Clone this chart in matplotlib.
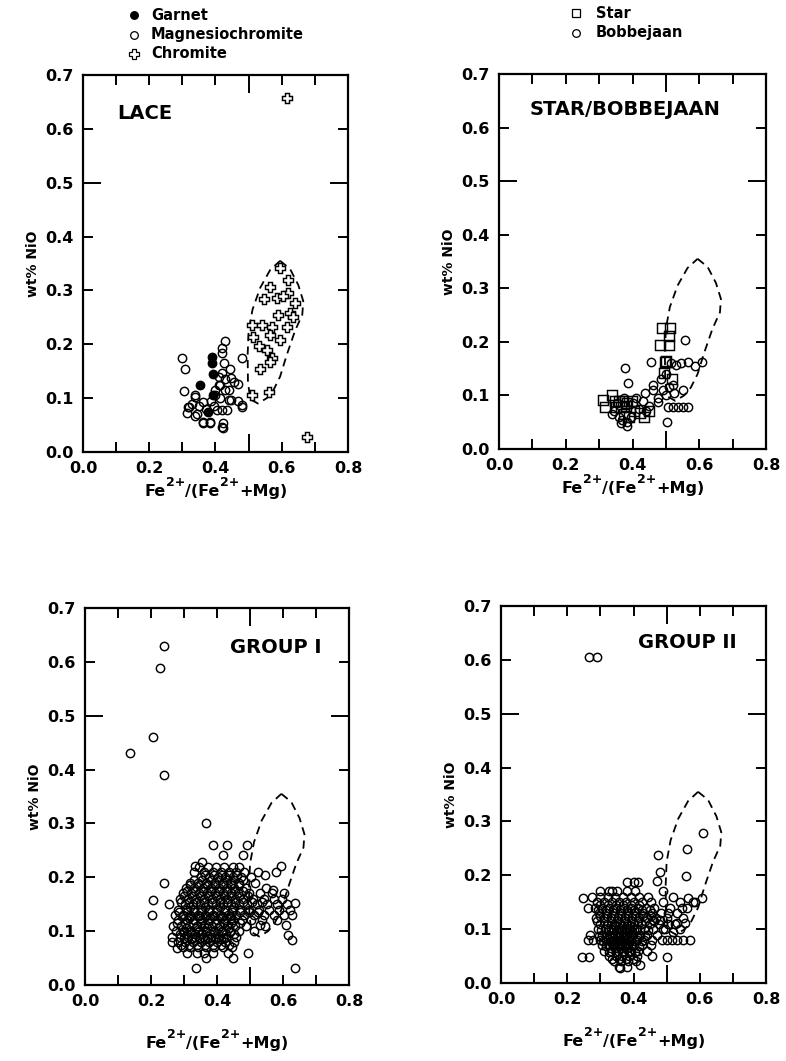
import matplotlib
matplotlib.use('Agg')
import matplotlib.pyplot as plt
from matplotlib.lines import Line2D

plt.rcParams['font.family'] = ['DejaVu Sans']
plt.rcParams['font.weight'] = 'bold'

# ---------------- data ----------------
x_ticks = [0.0, 0.1, 0.2, 0.3, 0.4, 0.5, 0.6, 0.7, 0.8]
y_ticks = [0.0, 0.1, 0.2, 0.3, 0.4, 0.5, 0.6, 0.7]

# field of chromite (dashed envelope)
env_x = [0.595, 0.625, 0.650, 0.665, 0.662, 0.640, 0.615, 0.595, 0.575, 0.555,
         0.528, 0.505, 0.498, 0.497, 0.500, 0.512, 0.535, 0.565, 0.595]
env_y = [0.355, 0.340, 0.310, 0.280, 0.255, 0.225, 0.180, 0.140, 0.115, 0.100,
         0.090, 0.098, 0.130, 0.180, 0.225, 0.265, 0.305, 0.338, 0.355]

# LACE
lace_garnet_x = [0.388, 0.388, 0.393, 0.353, 0.378, 0.392]
lace_garnet_y = [0.176, 0.166, 0.145, 0.125, 0.075, 0.105]

lace_mgchr_x = [0.298, 0.308, 0.305, 0.429, 0.419, 0.420, 0.479, 0.444, 0.447, 0.469,
                0.413, 0.419, 0.338, 0.363, 0.447, 0.479, 0.318, 0.313, 0.343, 0.363,
                0.383, 0.424, 0.424, 0.469, 0.480, 0.440, 0.421, 0.383, 0.363, 0.338,
                0.319, 0.338, 0.400, 0.410, 0.430, 0.395, 0.405, 0.420, 0.435, 0.385,
                0.400, 0.415, 0.430, 0.350, 0.370, 0.330, 0.410, 0.440, 0.455, 0.425]
lace_mgchr_y = [0.175, 0.154, 0.114, 0.206, 0.194, 0.183, 0.175, 0.155, 0.137, 0.126,
                0.124, 0.146, 0.103, 0.093, 0.096, 0.087, 0.084, 0.072, 0.070, 0.054,
                0.053, 0.053, 0.044, 0.095, 0.084, 0.097, 0.047, 0.056, 0.056, 0.067,
                0.084, 0.105, 0.115, 0.125, 0.135, 0.085, 0.078, 0.078, 0.078, 0.095,
                0.105, 0.100, 0.115, 0.085, 0.080, 0.090, 0.140, 0.115, 0.130, 0.165]

lace_chromite_x = [0.595, 0.620, 0.565, 0.546, 0.585, 0.620, 0.640, 0.625, 0.590, 0.615,
                   0.509, 0.540, 0.570, 0.514, 0.565, 0.595, 0.530, 0.555, 0.570, 0.565,
                   0.535, 0.509, 0.560, 0.615, 0.675, 0.605, 0.635]
lace_chromite_y = [0.341, 0.319, 0.307, 0.285, 0.286, 0.295, 0.276, 0.258, 0.255, 0.233,
                   0.236, 0.236, 0.233, 0.214, 0.217, 0.208, 0.196, 0.189, 0.174, 0.168,
                   0.155, 0.106, 0.112, 0.657, 0.028, 0.290, 0.250]

# STAR / BOBBEJAAN
star_x = [0.487, 0.512, 0.510, 0.482, 0.510, 0.497, 0.493, 0.519, 0.313, 0.318,
          0.338, 0.348, 0.360, 0.372, 0.385, 0.398, 0.352, 0.366, 0.380, 0.422,
          0.435, 0.448, 0.405, 0.375, 0.390, 0.500]
star_y = [0.225, 0.225, 0.210, 0.194, 0.194, 0.163, 0.141, 0.130, 0.091, 0.079,
          0.101, 0.090, 0.090, 0.090, 0.085, 0.090, 0.078, 0.078, 0.080, 0.067,
          0.060, 0.070, 0.070, 0.065, 0.060, 0.165]

bob_x = [0.377, 0.387, 0.455, 0.557, 0.567, 0.587, 0.607, 0.531, 0.515, 0.545,
         0.462, 0.492, 0.510, 0.525, 0.552, 0.437, 0.475, 0.500, 0.477, 0.505,
         0.520, 0.535, 0.550, 0.565, 0.502, 0.383, 0.360, 0.345, 0.370, 0.395,
         0.410, 0.430, 0.450, 0.420, 0.440, 0.365, 0.385, 0.355, 0.375, 0.460,
         0.485, 0.400, 0.340, 0.500, 0.520]
bob_y = [0.151, 0.123, 0.162, 0.203, 0.163, 0.154, 0.163, 0.157, 0.160, 0.160,
         0.110, 0.110, 0.115, 0.105, 0.110, 0.104, 0.095, 0.100, 0.088, 0.079,
         0.079, 0.079, 0.079, 0.079, 0.051, 0.042, 0.060, 0.070, 0.055, 0.060,
         0.095, 0.090, 0.080, 0.075, 0.070, 0.048, 0.050, 0.085, 0.095, 0.120,
         0.130, 0.085, 0.065, 0.140, 0.120]

# GROUP I
g1_x = [0.240, 0.227, 0.205, 0.136, 0.239, 0.367, 0.239, 0.207, 0.255, 0.202,
        0.387, 0.431, 0.490, 0.419, 0.478, 0.354, 0.333, 0.525, 0.545, 0.579,
        0.593, 0.336, 0.637, 0.495, 0.628, 0.616, 0.610, 0.637, 0.571, 0.530,
        0.278, 0.263, 0.308, 0.368, 0.449,
        0.345, 0.372, 0.398, 0.421, 0.447, 0.468,
        0.330, 0.361, 0.389, 0.412, 0.436, 0.458, 0.483,
        0.352, 0.377, 0.403, 0.425, 0.449, 0.474, 0.502,
        0.318, 0.343, 0.368, 0.394, 0.417, 0.441, 0.466, 0.515,
        0.305, 0.331, 0.357, 0.382, 0.406, 0.429, 0.453, 0.488, 0.548,
        0.296, 0.322, 0.346, 0.371, 0.395, 0.418, 0.442, 0.464, 0.497, 0.531, 0.566, 0.602,
        0.289, 0.313, 0.337, 0.360, 0.384, 0.408, 0.431, 0.455, 0.479, 0.509, 0.541, 0.574, 0.598,
        0.302, 0.326, 0.349, 0.372, 0.396, 0.419, 0.443, 0.467, 0.492, 0.521, 0.553, 0.583, 0.612,
        0.281, 0.306, 0.329, 0.352, 0.376, 0.399, 0.423, 0.446, 0.470, 0.496, 0.526, 0.557, 0.589, 0.621,
        0.272, 0.297, 0.318, 0.341, 0.363, 0.387, 0.410, 0.434, 0.458, 0.483, 0.511, 0.542, 0.572, 0.604, 0.628,
        0.283, 0.308, 0.331, 0.354, 0.377, 0.401, 0.425, 0.449, 0.476, 0.503, 0.536, 0.581,
        0.268, 0.292, 0.315, 0.338, 0.361, 0.384, 0.408, 0.431, 0.455, 0.487, 0.544,
        0.276, 0.299, 0.322, 0.345, 0.368, 0.392, 0.415, 0.440, 0.468, 0.512,
        0.263, 0.287, 0.311, 0.334, 0.357, 0.381, 0.404, 0.428, 0.457,
        0.281, 0.304, 0.328, 0.352, 0.375, 0.399, 0.424, 0.452,
        0.296, 0.318, 0.343, 0.366, 0.391, 0.417, 0.446,
        0.338, 0.362, 0.387, 0.433,
        0.316, 0.347, 0.379, 0.413, 0.442,
        0.306, 0.337, 0.370, 0.402, 0.436,
        0.318, 0.364, 0.409, 0.451,
        0.322, 0.364, 0.412,
        0.363, 0.391, 0.415, 0.437, 0.461,
        0.330, 0.356, 0.381, 0.405, 0.429, 0.453, 0.478,
        0.318, 0.344, 0.369, 0.394, 0.418, 0.441, 0.466,
        0.309, 0.334, 0.358, 0.383, 0.407, 0.430, 0.454, 0.480,
        0.301, 0.325, 0.349, 0.372, 0.396, 0.420, 0.443, 0.467, 0.494,
        0.290, 0.314, 0.337, 0.361, 0.384, 0.408, 0.431, 0.455, 0.480, 0.507, 0.537,
        0.285, 0.308, 0.330, 0.352, 0.375, 0.398, 0.422, 0.446, 0.471, 0.497, 0.524,
        0.280, 0.303, 0.326, 0.350, 0.373, 0.396, 0.420, 0.443, 0.470,
        0.288, 0.310, 0.333, 0.356, 0.380, 0.403, 0.427, 0.452,
        0.292, 0.316, 0.339, 0.363, 0.387, 0.411, 0.435,
        0.296, 0.322, 0.345, 0.368, 0.392, 0.416, 0.440,
        0.296, 0.319, 0.342, 0.366, 0.390, 0.414, 0.438,
        0.300, 0.324, 0.347, 0.371, 0.395, 0.419]
g1_y = [0.629, 0.588, 0.460, 0.430, 0.390, 0.301, 0.189, 0.158, 0.150, 0.130,
        0.260, 0.260, 0.260, 0.241, 0.241, 0.229, 0.221, 0.210, 0.205, 0.210,
        0.221, 0.032, 0.032, 0.060, 0.084, 0.093, 0.111, 0.152, 0.176, 0.111,
        0.068, 0.080, 0.059, 0.050, 0.050,
        0.22, 0.22, 0.22, 0.22, 0.22, 0.22,
        0.21, 0.21, 0.21, 0.21, 0.21, 0.21, 0.21,
        0.20, 0.20, 0.20, 0.20, 0.20, 0.20, 0.20,
        0.19, 0.19, 0.19, 0.19, 0.19, 0.19, 0.19, 0.19,
        0.18, 0.18, 0.18, 0.18, 0.18, 0.18, 0.18, 0.18, 0.18,
        0.17, 0.17, 0.17, 0.17, 0.17, 0.17, 0.17, 0.17, 0.17, 0.17, 0.17, 0.17,
        0.16, 0.16, 0.16, 0.16, 0.16, 0.16, 0.16, 0.16, 0.16, 0.16, 0.16, 0.16, 0.16,
        0.15, 0.15, 0.15, 0.15, 0.15, 0.15, 0.15, 0.15, 0.15, 0.15, 0.15, 0.15, 0.15,
        0.14, 0.14, 0.14, 0.14, 0.14, 0.14, 0.14, 0.14, 0.14, 0.14, 0.14, 0.14, 0.14, 0.14,
        0.13, 0.13, 0.13, 0.13, 0.13, 0.13, 0.13, 0.13, 0.13, 0.13, 0.13, 0.13, 0.13, 0.13, 0.13,
        0.12, 0.12, 0.12, 0.12, 0.12, 0.12, 0.12, 0.12, 0.12, 0.12, 0.12, 0.12,
        0.11, 0.11, 0.11, 0.11, 0.11, 0.11, 0.11, 0.11, 0.11, 0.11, 0.11,
        0.10, 0.10, 0.10, 0.10, 0.10, 0.10, 0.10, 0.10, 0.10, 0.10,
        0.09, 0.09, 0.09, 0.09, 0.09, 0.09, 0.09, 0.09, 0.09,
        0.08, 0.08, 0.08, 0.08, 0.08, 0.08, 0.08, 0.08,
        0.07, 0.07, 0.07, 0.07, 0.07, 0.07, 0.07,
        0.06, 0.06, 0.06, 0.06,
        0.125, 0.125, 0.125, 0.125, 0.125,
        0.105, 0.105, 0.105, 0.105, 0.105,
        0.145, 0.145, 0.145, 0.145,
        0.085, 0.085, 0.085,
        0.205, 0.205, 0.205, 0.205, 0.205,
        0.195, 0.195, 0.195, 0.195, 0.195, 0.195, 0.195,
        0.185, 0.185, 0.185, 0.185, 0.185, 0.185, 0.185,
        0.175, 0.175, 0.175, 0.175, 0.175, 0.175, 0.175, 0.175,
        0.165, 0.165, 0.165, 0.165, 0.165, 0.165, 0.165, 0.165, 0.165,
        0.155, 0.155, 0.155, 0.155, 0.155, 0.155, 0.155, 0.155, 0.155, 0.155, 0.155,
        0.135, 0.135, 0.135, 0.135, 0.135, 0.135, 0.135, 0.135, 0.135, 0.135, 0.135,
        0.115, 0.115, 0.115, 0.115, 0.115, 0.115, 0.115, 0.115, 0.115,
        0.095, 0.095, 0.095, 0.095, 0.095, 0.095, 0.095, 0.095,
        0.075, 0.075, 0.075, 0.075, 0.075, 0.075, 0.075,
        0.128, 0.128, 0.128, 0.128, 0.128, 0.128, 0.128,
        0.098, 0.098, 0.098, 0.098, 0.098, 0.098, 0.098,
        0.088, 0.088, 0.088, 0.088, 0.088, 0.088]

# GROUP II
g2_x = [0.267, 0.289, 0.611, 0.561, 0.475, 0.479, 0.558, 0.379, 0.400, 0.415,
        0.606, 0.585, 0.565, 0.540, 0.520, 0.249, 0.263, 0.334, 0.244, 0.267,
        0.500, 0.359, 0.420, 0.279, 0.550, 0.530, 0.515, 0.500, 0.570, 0.530,
        0.555, 0.460, 0.480, 0.505, 0.545,
        0.490, 0.510, 0.530, 0.560, 0.580, 0.500, 0.525, 0.548, 0.495, 0.520,
        0.540, 0.470, 0.490,
        0.300, 0.325, 0.350, 0.380, 0.405,
        0.275, 0.298, 0.322, 0.345, 0.368, 0.392, 0.418, 0.445,
        0.290, 0.312, 0.334, 0.356, 0.378, 0.401, 0.425, 0.452,
        0.283, 0.305, 0.327, 0.348, 0.370, 0.392, 0.414, 0.438, 0.463,
        0.296, 0.318, 0.340, 0.361, 0.383, 0.405, 0.428, 0.455, 0.482,
        0.288, 0.310, 0.331, 0.352, 0.373, 0.394, 0.416, 0.440, 0.468,
        0.299, 0.320, 0.341, 0.360, 0.381, 0.402, 0.424, 0.449, 0.478, 0.503,
        0.292, 0.313, 0.333, 0.352, 0.371, 0.390, 0.410, 0.432, 0.458, 0.489,
        0.270, 0.305, 0.325, 0.344, 0.362, 0.380, 0.399, 0.419, 0.442, 0.470,
        0.263, 0.298, 0.318, 0.337, 0.355, 0.373, 0.391, 0.410, 0.431, 0.455, 0.485,
        0.305, 0.326, 0.345, 0.364, 0.383, 0.403, 0.425, 0.452,
        0.312, 0.333, 0.352, 0.371, 0.391, 0.414, 0.440,
        0.325, 0.346, 0.366, 0.387, 0.412, 0.455,
        0.340, 0.362, 0.384, 0.408,
        0.355, 0.381,
        0.335, 0.357, 0.376, 0.395,
        0.328, 0.349, 0.368, 0.387,
        0.336, 0.357, 0.378,
        0.343, 0.366, 0.388,
        0.343, 0.362, 0.381,
        0.294, 0.316, 0.338, 0.359, 0.381, 0.403, 0.426, 0.450,
        0.299, 0.321, 0.342, 0.363, 0.384, 0.405, 0.428, 0.452,
        0.290, 0.311, 0.331, 0.351, 0.371, 0.392, 0.413, 0.436, 0.462,
        0.301, 0.322, 0.342, 0.361, 0.381, 0.400, 0.421, 0.445,
        0.296, 0.316, 0.335, 0.354, 0.373, 0.392, 0.412, 0.435,
        0.309, 0.328, 0.347, 0.366, 0.385, 0.405, 0.427,
        0.318, 0.337, 0.356, 0.375, 0.395, 0.417,
        0.326, 0.346, 0.365, 0.385, 0.405,
        0.335, 0.355, 0.376, 0.397,
        0.300, 0.323, 0.346, 0.369, 0.392, 0.416]
g2_y = [0.606, 0.606, 0.279, 0.248, 0.238, 0.207, 0.199, 0.188, 0.188, 0.188,
        0.158, 0.150, 0.158, 0.150, 0.160, 0.157, 0.139, 0.170, 0.049, 0.049,
        0.049, 0.027, 0.033, 0.080, 0.080, 0.080, 0.080, 0.080, 0.080, 0.111,
        0.111, 0.117, 0.117, 0.130, 0.140,
        0.150, 0.140, 0.130, 0.140, 0.150, 0.120, 0.110, 0.120, 0.100, 0.095,
        0.100, 0.190, 0.170,
        0.17, 0.17, 0.17, 0.17, 0.17,
        0.16, 0.16, 0.16, 0.16, 0.16, 0.16, 0.16, 0.16,
        0.15, 0.15, 0.15, 0.15, 0.15, 0.15, 0.15, 0.15,
        0.14, 0.14, 0.14, 0.14, 0.14, 0.14, 0.14, 0.14, 0.14,
        0.13, 0.13, 0.13, 0.13, 0.13, 0.13, 0.13, 0.13, 0.13,
        0.12, 0.12, 0.12, 0.12, 0.12, 0.12, 0.12, 0.12, 0.12,
        0.11, 0.11, 0.11, 0.11, 0.11, 0.11, 0.11, 0.11, 0.11, 0.11,
        0.10, 0.10, 0.10, 0.10, 0.10, 0.10, 0.10, 0.10, 0.10, 0.10,
        0.09, 0.09, 0.09, 0.09, 0.09, 0.09, 0.09, 0.09, 0.09, 0.09,
        0.08, 0.08, 0.08, 0.08, 0.08, 0.08, 0.08, 0.08, 0.08, 0.08, 0.08,
        0.07, 0.07, 0.07, 0.07, 0.07, 0.07, 0.07, 0.07,
        0.06, 0.06, 0.06, 0.06, 0.06, 0.06, 0.06,
        0.05, 0.05, 0.05, 0.05, 0.05, 0.05,
        0.04, 0.04, 0.04, 0.04,
        0.03, 0.03,
        0.095, 0.095, 0.095, 0.095,
        0.085, 0.085, 0.085, 0.085,
        0.075, 0.075, 0.075,
        0.105, 0.105, 0.105,
        0.065, 0.065, 0.065,
        0.135, 0.135, 0.135, 0.135, 0.135, 0.135, 0.135, 0.135,
        0.125, 0.125, 0.125, 0.125, 0.125, 0.125, 0.125, 0.125,
        0.115, 0.115, 0.115, 0.115, 0.115, 0.115, 0.115, 0.115, 0.115,
        0.098, 0.098, 0.098, 0.098, 0.098, 0.098, 0.098, 0.098,
        0.088, 0.088, 0.088, 0.088, 0.088, 0.088, 0.088, 0.088,
        0.078, 0.078, 0.078, 0.078, 0.078, 0.078, 0.078,
        0.068, 0.068, 0.068, 0.068, 0.068, 0.068,
        0.058, 0.058, 0.058, 0.058, 0.058,
        0.045, 0.045, 0.045, 0.045,
        0.145, 0.145, 0.145, 0.145, 0.145, 0.145]

assert len(g1_x) == len(g1_y), (len(g1_x), len(g1_y))
assert len(g2_x) == len(g2_y), (len(g2_x), len(g2_y))

# ---------------- figure ----------------
W, H = 786, 1061
fig = plt.figure(figsize=(W / 100, H / 100), dpi=100)


def ax_at(l, t, r, b):
    return fig.add_axes([l / W, 1 - b / H, (r - l) / W, (b - t) / H])


def style(ax, title, tx, ty):
    ax.set_xlim(0, 0.8)
    ax.set_ylim(0, 0.7)
    ax.set_xticks(x_ticks)
    ax.set_xticklabels([f'{v:.1f}' if i % 2 == 0 else '' for i, v in enumerate(x_ticks)])
    ax.set_yticks(y_ticks)
    ax.set_yticklabels([f'{v:.1f}' for v in y_ticks])
    ax.tick_params(direction='in', top=True, right=True, length=7, width=1.4,
                   labelsize=11.5, pad=6.5)
    for lab in ax.get_xticklabels() + ax.get_yticklabels():
        lab.set_fontweight('bold')
    for sp in ax.spines.values():
        sp.set_linewidth(1.6)
    for t in (ax.xaxis.get_major_ticks()[5], ax.yaxis.get_major_ticks()[5]):
        t.tick1line.set_markersize(13)
        t.tick2line.set_markersize(13)
    ax.set_ylabel('wt% NiO', fontsize=10, fontweight='bold', labelpad=4)
    ax.text(tx, ty, title, transform=ax.transAxes, fontsize=14, fontweight='bold',
            ha='left', va='center')
    ax.plot(env_x, env_y, color='black', lw=1.3, ls=(0, (4.5, 3)), zorder=2)


def pts(ax, x, y, marker, ms, fill='none', z=3, mew=1.05):
    ax.plot(x, y, ls='none', marker=marker, ms=ms,
            mfc=fill, mec='black', mew=mew, zorder=z)


ax1 = ax_at(83, 75, 348, 452)
ax2 = ax_at(499, 74, 766, 449)
ax3 = ax_at(85, 608, 349, 985)
ax4 = ax_at(501, 606, 766, 983)

style(ax1, 'LACE', 0.128, 0.899)
style(ax2, 'STAR/BOBBEJAAN', 0.116, 0.904)
style(ax3, 'GROUP I', 0.550, 0.896)
style(ax4, 'GROUP II', 0.517, 0.902)

pts(ax1, lace_mgchr_x, lace_mgchr_y, 'o', 6)
pts(ax1, lace_chromite_x, lace_chromite_y, 'P', 7.5, fill='white')
pts(ax1, lace_garnet_x, lace_garnet_y, 'o', 6, fill='black', z=4)

pts(ax2, bob_x, bob_y, 'o', 6)
pts(ax2, star_x, star_y, 's', 6.5, z=4)

pts(ax3, g1_x, g1_y, 'o', 6)
pts(ax4, g2_x, g2_y, 'o', 6)

# x-axis labels built from pieces so the superscripts can be large
renderer = fig.canvas.get_renderer()
LABEL_PIECES = [('Fe', False), ('2+', True), ('/(Fe', False), ('2+', True), ('+Mg)', False)]


def xlabel(cx, base):
    texts = []
    for s, sup in LABEL_PIECES:
        t = fig.text(0, 0, s, fontsize=9 if sup else 11.5, fontweight='bold',
                     ha='left', va='baseline')
        texts.append((t, sup))
    widths = [t.get_window_extent(renderer).width for t, _ in texts]
    x = cx - sum(widths) / 2
    for (t, sup), w in zip(texts, widths):
        yb = base - 10 if sup else base
        t.set_position((x / W, 1 - yb / H))
        x += w


xlabel(216, 496)
xlabel(633, 493)
xlabel(217, 1048)
xlabel(634, 1046)


# legends
def legend_entry(xm, xt, y, label, marker, ms, fill='none'):
    fig.add_artist(Line2D([xm / W], [1 - y / H], transform=fig.transFigure, ls='none',
                          marker=marker, ms=ms, mfc=fill, mec='black', mew=0.9))
    fig.text(xt / W, 1 - y / H, label, fontsize=10.5, fontweight='bold',
             ha='left', va='center')


legend_entry(134, 151, 15, 'Garnet', 'o', 5.5, fill='black')
legend_entry(134, 151, 35, 'Magnesiochromite', 'o', 5.5)
legend_entry(134, 151, 54, 'Chromite', 'P', 7, fill='white')
legend_entry(576, 596, 13, 'Star', 's', 6)
legend_entry(576, 596, 33, 'Bobbejaan', 'o', 5.5)

fig.savefig('out.png', dpi=100)
